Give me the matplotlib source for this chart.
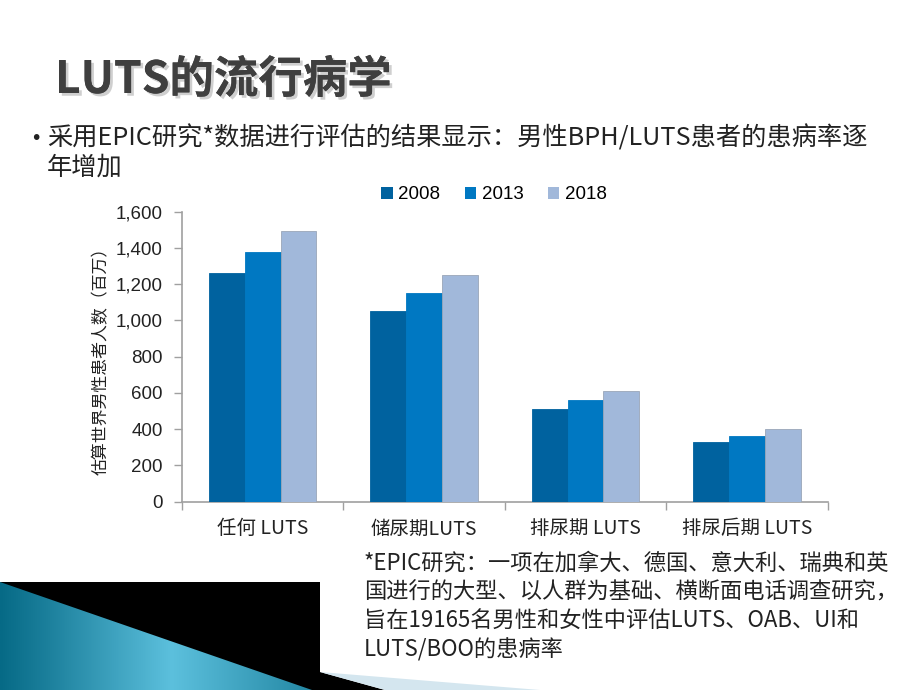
import matplotlib
matplotlib.use("Agg")
import matplotlib.pyplot as plt
import numpy as np
from matplotlib.patches import Polygon, Rectangle, Patch
import matplotlib.patheffects as pe

plt.rcParams['font.family'] = ['Noto Sans CJK SC', 'DejaVu Sans']

# ---- data ----
categories = ["任何 LUTS", "储尿期LUTS", "排尿期 LUTS", "排尿后期 LUTS"]
years = ["2008", "2013", "2018"]
v2008 = [1260, 1050, 513, 331]
v2013 = [1380, 1150, 561, 364]
v2018 = [1493, 1251, 612, 399]
yticks = [0, 200, 400, 600, 800, 1000, 1200, 1400, 1600]

title = "LUTS的流行病学"
bullet_lines = ["采用EPIC研究*数据进行评估的结果显示：男性BPH/LUTS患者的患病率逐", "年增加"]
foot_lines = ["*EPIC研究：一项在加拿大、德国、意大利、瑞典和英",
              "国进行的大型、以人群为基础、横断面电话调查研究，",
              "旨在19165名男性和女性中评估LUTS、OAB、UI和",
              "LUTS/BOO的患病率"]
ylabel = "估算世界男性患者人数（百万）"

colors = ["#00629f", "#0078c2", "#a1b8da"]

W, H = 920, 690
fig = plt.figure(figsize=(W / 100, H / 100), dpi=100)

# ---- background / decorations in pixel coords ----
bg = fig.add_axes([0, 0, 1, 1], zorder=0)
bg.set_xlim(0, W)
bg.set_ylim(H, 0)
bg.axis('off')

bg.add_patch(Polygon([(0, 582), (320, 582), (320, 672), (385, 690), (0, 690)],
                     closed=True, facecolor='black', edgecolor='none', zorder=1))
bg.add_patch(Polygon([(320, 672), (540, 690), (385, 690)],
                     closed=True, facecolor='#d4e6ef', edgecolor='none', zorder=2))
tri = Polygon([(0, 582), (312, 690), (0, 690)], closed=True,
              facecolor='none', edgecolor='none', zorder=3)
bg.add_patch(tri)
xs = np.linspace(0, 1, 300)
grad = np.interp(xs, [0, 0.15, 0.55, 1.0], [0.0, 0.25, 1.0, 0.35])
c0 = np.array([0x06, 0x6a, 0x86]) / 255
c1 = np.array([0x5c, 0xc0, 0xdd]) / 255
img = (c0[None, None, :] * (1 - grad[None, :, None]) + c1[None, None, :] * grad[None, :, None])
img = np.repeat(img, 2, axis=0)
im = bg.imshow(img, extent=(0, 312, 690, 582), aspect='auto', zorder=3, interpolation='bilinear')
im.set_clip_path(tri)

# title
bg.text(55, 80, title, fontsize=32, fontweight='bold', color='#3f3f3f',
        va='center', ha='left', zorder=5,
        path_effects=[pe.withSimplePatchShadow(offset=(2, -2), shadow_rgbFace='#b0b0b0', alpha=0.6), pe.Normal()])

# bullet text
bg.text(36, 139, "•", fontsize=14, color='#222222', va='center', ha='center', zorder=5,
        family=['DejaVu Sans'])
bg.text(47, 138, bullet_lines[0], fontsize=18.2, color='#222222', va='center', ha='left', zorder=5)
bg.text(47, 168, bullet_lines[1], fontsize=18.2, color='#222222', va='center', ha='left', zorder=5)

# footnote
for i, line in enumerate(foot_lines):
    bg.text(364, 563 + i * 29, line, fontsize=16, color='#222222', va='center', ha='left', zorder=5)

# stray mark
bg.add_patch(Rectangle((457, 339), 5, 5, facecolor='#97a9c4', edgecolor='none', zorder=6))

# ---- chart ----
ax_left, ax_right = 182 / W, 827.7 / W
ax_bottom, ax_top = (H - 501.7) / H, (H - 211.7) / H
ax = fig.add_axes([ax_left, ax_bottom, ax_right - ax_left, ax_top - ax_bottom], zorder=2)
ax.set_facecolor('none')

x = np.arange(len(categories))
bw = 0.222
series = [v2008, v2013, v2018]
for i, (vals, col) in enumerate(zip(series, colors)):
    ec = '#9aa6b8' if i == 2 else col
    ax.bar(x + (i - 1) * bw, vals, width=bw, color=col, edgecolor=ec, linewidth=0.6,
           zorder=3, label=years[i])

ax.set_xlim(-0.5, len(categories) - 0.5)
ax.set_ylim(0, 1600)
ax.set_yticks(yticks)
ax.set_yticklabels([f"{v:,}" for v in yticks], fontsize=13.5, color='#222222',
                   family=['Liberation Sans', 'DejaVu Sans'])
ax.set_xticks(x)
ax.set_xticklabels(categories, fontsize=14, color='#222222')
ax.set_xticks(np.arange(-0.5, len(categories)), minor=True)
ax.tick_params(axis='x', which='major', length=0, pad=12)
ax.tick_params(axis='x', which='minor', length=6, width=1, color='#a0a0a0', direction='out')
ax.tick_params(axis='y', length=6, width=1, color='#a0a0a0', direction='out', pad=8)
for s in ['top', 'right']:
    ax.spines[s].set_visible(False)
for s in ['left', 'bottom']:
    ax.spines[s].set_color('#a0a0a0')
    ax.spines[s].set_linewidth(1.2)

ax.set_ylabel(ylabel, fontsize=12.2, color='#222222', labelpad=4)

handles = [Patch(facecolor=c, edgecolor='none') for c in colors]
fig.legend(handles, years, loc='center', bbox_to_anchor=(494 / W, 1 - 195 / H),
           ncol=3, frameon=False, handlelength=0.6, handleheight=0.6,
           handletextpad=0.3, columnspacing=1.3,
           prop={'family': ['Liberation Sans', 'DejaVu Sans'], 'size': 13.5})

fig.savefig("out.png", dpi=100)
